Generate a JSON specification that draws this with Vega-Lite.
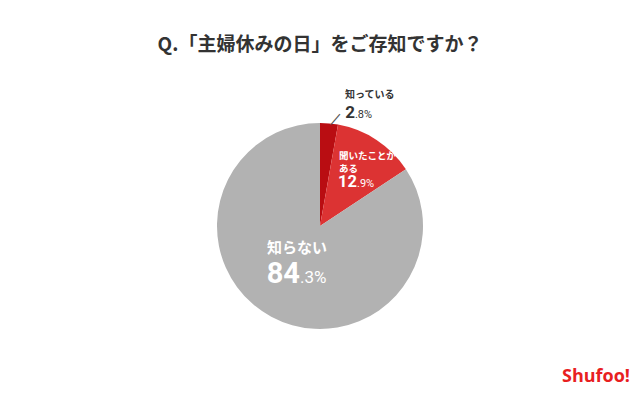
{
  "$schema": "https://vega.github.io/schema/vega-lite/v6.json",
  "width": 640,
  "height": 394,
  "autosize": {"type": "fit", "contains": "padding"},
  "padding": {"top": 36, "left": 0, "right": 0, "bottom": 0},
  "background": "#ffffff",
  "config": {"view": {"stroke": null}},
  "title": {
    "text": "Q.「主婦休みの日」をご存知ですか？",
    "font": "Noto Sans CJK JP",
    "fontSize": 19,
    "fontWeight": "bold",
    "color": "#333333",
    "anchor": "middle",
    "baseline": "top",
    "offset": 3
  },
  "data": {
    "values": [
      {"cat": "知っている", "value": 2.8, "order": 1, "int": "2", "dec": ".8%"},
      {"cat": "聞いたことがある", "value": 12.9, "order": 2, "int": "12", "dec": ".9%"},
      {"cat": "知らない", "value": 84.3, "order": 3, "int": "84", "dec": ".3%"}
    ]
  },
  "encoding": {
    "theta": {"field": "value", "type": "quantitative", "stack": true},
    "order": {"field": "order", "type": "quantitative"}
  },
  "layer": [
    {
      "mark": {"type": "arc", "outerRadius": 103, "stroke": null},
      "encoding": {
        "color": {
          "field": "cat",
          "type": "nominal",
          "scale": {"domain": ["知っている", "聞いたことがある", "知らない"], "range": ["#b90d12", "#dc3333", "#b2b2b2"]},
          "legend": null
        }
      }
    },
    {
      "mark": {"type": "text", "radius": 113, "dx": -1, "dy": 9.6, "align": "center", "baseline": "middle", "angle": 311, "fontSize": 21, "font": "Roboto", "fontWeight": 300, "color": "#555555"},
      "encoding": {"text": {"condition": {"test": "datum.order == 1", "value": "—"}, "value": ""}}
    },
    {
      "mark": {"type": "text", "radius": 113, "dx": 15, "dy": -18.4, "align": "left", "baseline": "middle", "fontSize": 10, "fontWeight": "bold", "font": "Noto Sans CJK JP", "color": "#333333"},
      "encoding": {"text": {"condition": {"test": "datum.order == 1", "field": "cat"}, "value": ""}}
    },
    {
      "mark": {"type": "text", "radius": 113, "dx": 25, "dy": 4.6, "align": "right", "baseline": "alphabetic", "fontSize": 17, "fontWeight": "bold", "font": "Roboto", "color": "#333333"},
      "encoding": {"text": {"condition": {"test": "datum.order == 1", "field": "int"}, "value": ""}}
    },
    {
      "mark": {"type": "text", "radius": 113, "dx": 25, "dy": 4.6, "align": "left", "baseline": "alphabetic", "fontSize": 11, "font": "Roboto", "color": "#333333"},
      "encoding": {"text": {"condition": {"test": "datum.order == 1", "field": "dec"}, "value": ""}}
    },
    {
      "mark": {"type": "text", "radius": 70, "dx": -19.4, "dy": -11, "align": "left", "baseline": "middle", "fontSize": 9.5, "fontWeight": "bold", "font": "Noto Sans CJK JP", "color": "#ffffff"},
      "encoding": {"text": {"condition": {"test": "datum.order == 2", "value": "聞いたことが"}, "value": ""}}
    },
    {
      "mark": {"type": "text", "radius": 70, "dx": -19.4, "dy": 1.5, "align": "left", "baseline": "middle", "fontSize": 9.5, "fontWeight": "bold", "font": "Noto Sans CJK JP", "color": "#ffffff"},
      "encoding": {"text": {"condition": {"test": "datum.order == 2", "value": "ある"}, "value": ""}}
    },
    {
      "mark": {"type": "text", "radius": 70, "dx": -1.4, "dy": 19.8, "align": "right", "baseline": "alphabetic", "fontSize": 16.5, "fontWeight": "bold", "font": "Roboto", "color": "#ffffff"},
      "encoding": {"text": {"condition": {"test": "datum.order == 2", "field": "int"}, "value": ""}}
    },
    {
      "mark": {"type": "text", "radius": 70, "dx": -1.4, "dy": 19.8, "align": "left", "baseline": "alphabetic", "fontSize": 11, "font": "Roboto", "color": "#ffffff"},
      "encoding": {"text": {"condition": {"test": "datum.order == 2", "field": "dec"}, "value": ""}}
    },
    {
      "mark": {"type": "text", "radius": 60, "dx": -24.6, "dy": -30.8, "align": "left", "baseline": "middle", "fontSize": 15, "fontWeight": "bold", "font": "Noto Sans CJK JP", "color": "#ffffff"},
      "encoding": {"text": {"condition": {"test": "datum.order == 3", "field": "cat"}, "value": ""}}
    },
    {
      "mark": {"type": "text", "radius": 60, "dx": 8.4, "dy": 4.5, "align": "right", "baseline": "alphabetic", "fontSize": 29, "fontWeight": "bold", "font": "Roboto", "color": "#ffffff"},
      "encoding": {"text": {"condition": {"test": "datum.order == 3", "field": "int"}, "value": ""}}
    },
    {
      "mark": {"type": "text", "radius": 60, "dx": 8.4, "dy": 4.5, "align": "left", "baseline": "alphabetic", "fontSize": 17, "font": "Roboto", "color": "#ffffff"},
      "encoding": {"text": {"condition": {"test": "datum.order == 3", "field": "dec"}, "value": ""}}
    },
    {
      "data": {"values": [{"logo": "Shufoo!"}]},
      "mark": {"type": "text", "x": {"expr": "width - 10"}, "y": {"expr": "height - 12"}, "align": "right", "baseline": "alphabetic", "fontSize": 18, "fontWeight": "bold", "font": "Open Sans", "color": "#e8201f"},
      "encoding": {"theta": null, "order": null, "text": {"field": "logo", "type": "nominal"}}
    }
  ]
}
